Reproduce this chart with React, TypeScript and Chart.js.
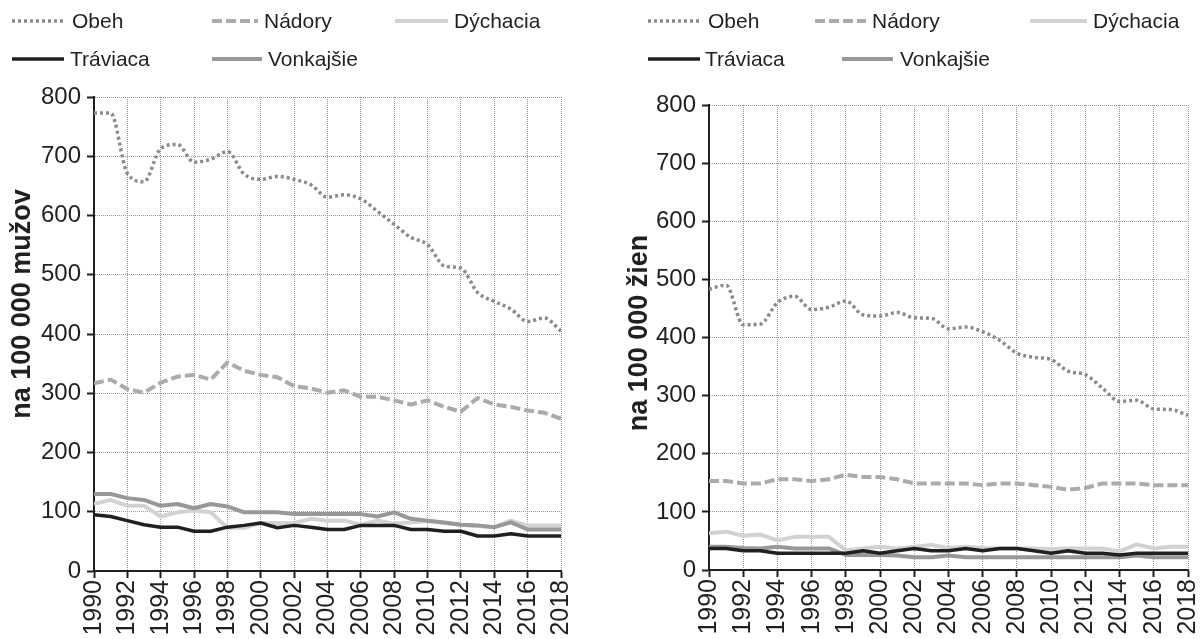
import React, { useEffect, useRef } from "react";
import { Chart, registerables } from "chart.js";

Chart.register(...registerables);

// ---------- data ----------
const years = [
  1990, 1991, 1992, 1993, 1994, 1995, 1996, 1997, 1998, 1999, 2000, 2001, 2002, 2003, 2004,
  2005, 2006, 2007, 2008, 2009, 2010, 2011, 2012, 2013, 2014, 2015, 2016, 2017, 2018,
];
const seriesNames = ["Obeh", "Nádory", "Dýchacia", "Tráviaca", "Vonkajšie"];
const yTickMin = 0;
const yTickMax = 800;
const yTickStep = 100;
const xTickStep = 2;
const titleMen = "na 100 000 mužov";
const titleWomen = "na 100 000 žien";

// men
const menObeh = [773, 773, 671, 657, 713, 720, 690, 695, 708, 670, 661, 666, 661, 652, 631, 635, 628, 607, 585, 563, 551, 515, 511, 470, 455, 442, 421, 427, 405];
const menNadory = [317, 323, 307, 301, 318, 328, 331, 323, 352, 338, 331, 327, 312, 308, 301, 305, 294, 294, 288, 281, 288, 277, 269, 292, 281, 277, 271, 267, 257];
const menDychacia = [113, 120, 110, 110, 92, 99, 102, 99, 73, 73, 81, 81, 81, 88, 85, 85, 78, 85, 80, 82, 85, 81, 78, 76, 74, 85, 77, 77, 77];
const menTraviaca = [95, 92, 85, 78, 74, 74, 67, 67, 74, 77, 81, 73, 77, 74, 70, 70, 77, 77, 77, 70, 70, 67, 67, 59, 59, 63, 59, 59, 59];
const menVonkajsie = [130, 130, 123, 120, 110, 113, 106, 113, 109, 99, 99, 99, 96, 96, 96, 96, 96, 92, 99, 88, 85, 82, 78, 77, 74, 82, 70, 70, 70];

// women
const womObeh = [483, 490, 422, 423, 460, 471, 448, 452, 463, 439, 437, 443, 434, 433, 415, 418, 410, 395, 373, 366, 362, 342, 336, 313, 290, 292, 277, 276, 266];
const womNadory = [153, 153, 149, 149, 156, 156, 153, 156, 164, 160, 160, 156, 149, 149, 149, 149, 146, 149, 149, 146, 143, 138, 141, 149, 149, 149, 146, 146, 146];
const womDychacia = [63, 66, 59, 61, 51, 57, 57, 57, 34, 37, 40, 37, 40, 43, 38, 40, 38, 37, 37, 37, 36, 37, 37, 37, 32, 44, 37, 40, 40];
const womTraviaca = [37, 37, 33, 33, 29, 29, 29, 29, 29, 33, 29, 33, 37, 33, 33, 37, 33, 37, 37, 33, 29, 33, 29, 29, 26, 29, 29, 29, 29];
const womVonkajsie = [40, 40, 38, 37, 40, 37, 37, 37, 26, 26, 26, 25, 22, 22, 25, 22, 22, 22, 22, 22, 22, 22, 22, 22, 22, 25, 22, 22, 22];

// ---------- styles ----------
const FONT = '"Liberation Sans", Arial, Helvetica, sans-serif';
const INK = "#231f20";

type Style = { color: string; width: number; dash: number[]; smooth: boolean; order: number };
const STYLES: Record<string, Style> = {
  "Obeh": { color: "#8a8a8a", width: 3.5, dash: [3, 3], smooth: true, order: 4 },
  "Nádory": { color: "#ababab", width: 4, dash: [10, 4], smooth: false, order: 3 },
  "Dýchacia": { color: "#d2d2d2", width: 4, dash: [], smooth: false, order: 2 },
  "Tráviaca": { color: INK, width: 3.5, dash: [], smooth: false, order: 0 },
  "Vonkajšie": { color: "#989898", width: 4, dash: [], smooth: false, order: 1 },
};

type LegendItem = { name: string; x1: number; x2: number; tx: number; y: number };
type Frame = { yAxisW: number; xAxisH: number; top: number; right: number };
type PanelProps = {
  left: number;
  values: number[][];
  title: string;
  titleX: number;
  titleY: number;
  frame: Frame;
  legend: LegendItem[];
};

function Panel({ left, values, title, titleX, titleY, frame, legend }: PanelProps) {
  const ref = useRef<HTMLCanvasElement | null>(null);

  useEffect(() => {
    const canvas = ref.current;
    if (!canvas) return;

    const decor = {
      id: "decor",
      afterDraw(chart: any) {
        const ctx = chart.ctx as CanvasRenderingContext2D;
        ctx.save();
        // legend
        ctx.font = `21px ${FONT}`;
        ctx.textBaseline = "middle";
        ctx.textAlign = "left";
        for (const it of legend) {
          const st = STYLES[it.name];
          ctx.beginPath();
          ctx.lineWidth = st.width;
          ctx.strokeStyle = st.color;
          ctx.lineCap = "butt";
          ctx.setLineDash(st.dash);
          ctx.moveTo(it.x1, it.y);
          ctx.lineTo(it.x2, it.y);
          ctx.stroke();
          ctx.setLineDash([]);
          ctx.fillStyle = INK;
          ctx.fillText(it.name, it.tx, it.y + 1);
        }
        // y-axis title
        ctx.translate(titleX, titleY);
        ctx.rotate(-Math.PI / 2);
        ctx.font = `bold 27px ${FONT}`;
        ctx.textAlign = "center";
        ctx.textBaseline = "middle";
        ctx.fillStyle = INK;
        ctx.fillText(title, 0, 0);
        ctx.restore();
      },
    };

    const datasets = seriesNames.map((name, i) => {
      const st = STYLES[name];
      return {
        label: name,
        data: years.map((yr, j) => ({ x: yr, y: values[i][j] })),
        borderColor: st.color,
        backgroundColor: st.color,
        borderWidth: st.width,
        borderDash: st.dash,
        borderCapStyle: "butt" as const,
        borderJoinStyle: "round" as const,
        cubicInterpolationMode: st.smooth ? ("monotone" as const) : ("default" as const),
        tension: 0,
        pointRadius: 0,
        fill: false,
        order: st.order,
      };
    });

    const chart = new Chart(canvas, {
      type: "line",
      data: { datasets },
      options: {
        animation: false,
        responsive: false,
        maintainAspectRatio: false,
        layout: { padding: { top: frame.top, right: frame.right, left: 0, bottom: 0 } },
        plugins: { legend: { display: false }, tooltip: { enabled: false } },
        scales: {
          x: {
            type: "linear",
            min: years[0],
            max: years[years.length - 1],
            ticks: {
              stepSize: xTickStep,
              autoSkip: false,
              maxRotation: 90,
              minRotation: 90,
              font: { family: FONT, size: 25 },
              color: INK,
              padding: 2,
              callback: (v: any) => String(v),
            },
            grid: {
              color: "#9a9a9a",
              lineWidth: 1,
              tickColor: INK,
              tickWidth: 2,
              tickLength: 7,
            },
            border: { display: true, color: INK, width: 2, dash: [1, 1] },
            afterFit: (s: any) => {
              s.height = frame.xAxisH;
              s.paddingLeft = 0;
              s.paddingRight = 0;
            },
          },
          y: {
            type: "linear",
            min: yTickMin,
            max: yTickMax,
            ticks: { stepSize: yTickStep, font: { family: FONT, size: 24 }, color: INK, padding: 6 },
            grid: {
              color: "#9a9a9a",
              lineWidth: 1,
              tickColor: INK,
              tickWidth: 2,
              tickLength: 7,
            },
            border: { display: true, color: INK, width: 2, dash: [1, 1] },
            afterFit: (s: any) => {
              s.width = frame.yAxisW;
              s.paddingTop = 0;
              s.paddingBottom = 0;
            },
          },
        },
      } as any,
      plugins: [decor],
    });

    return () => chart.destroy();
  }, []);

  return (
    <canvas
      ref={ref}
      width={600}
      height={639}
      style={{ position: "absolute", left, top: 0, width: 600, height: 639, display: "block" }}
    />
  );
}

const leftLegend: LegendItem[] = [
  { name: "Obeh", x1: 12, x2: 64, tx: 72, y: 21 },
  { name: "Nádory", x1: 212, x2: 258, tx: 264, y: 21 },
  { name: "Dýchacia", x1: 395, x2: 448, tx: 454, y: 21 },
  { name: "Tráviaca", x1: 12, x2: 64, tx: 70, y: 59 },
  { name: "Vonkajšie", x1: 212, x2: 262, tx: 268, y: 59 },
];

const rightLegend: LegendItem[] = [
  { name: "Obeh", x1: 48, x2: 100, tx: 108, y: 21 },
  { name: "Nádory", x1: 215, x2: 266, tx: 272, y: 21 },
  { name: "Dýchacia", x1: 430, x2: 487, tx: 493, y: 21 },
  { name: "Tráviaca", x1: 48, x2: 100, tx: 105, y: 59 },
  { name: "Vonkajšie", x1: 242, x2: 293, tx: 300, y: 59 },
];

export default function App() {
  return (
    <div
      style={{
        position: "fixed",
        left: 0,
        top: 0,
        width: 1200,
        height: 639,
        background: "#ffffff",
        overflow: "hidden",
      }}
    >
      <Panel
        left={0}
        values={[menObeh, menNadory, menDychacia, menTraviaca, menVonkajsie]}
        title={titleMen}
        titleX={23}
        titleY={304}
        frame={{ yAxisW: 94, xAxisH: 68, top: 97, right: 39 }}
        legend={leftLegend}
      />
      <Panel
        left={600}
        values={[womObeh, womNadory, womDychacia, womTraviaca, womVonkajsie]}
        title={titleWomen}
        titleX={40}
        titleY={333}
        frame={{ yAxisW: 109, xAxisH: 69, top: 105, right: 12 }}
        legend={rightLegend}
      />
    </div>
  );
}
